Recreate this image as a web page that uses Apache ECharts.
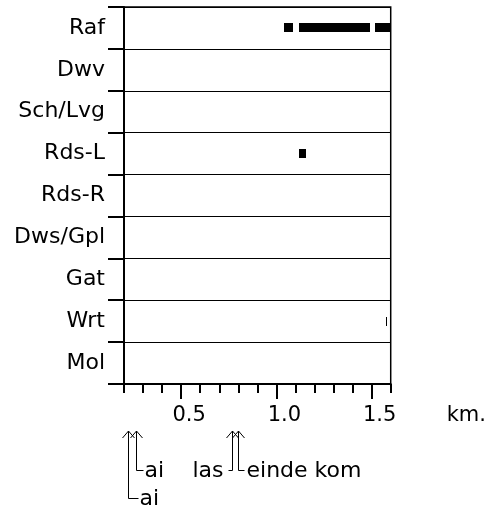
<!DOCTYPE html>
<html>
<head>
<meta charset="utf-8">
<script src="https://cdn.jsdelivr.net/npm/echarts@6/dist/echarts.min.js"></script>
<style>
html,body{margin:0;padding:0;background:#fff;}
#c{width:489px;height:513px;}
</style>
</head>
<body>
<div id="c"></div>
<script>
// ---- data ----
const categories = ['Raf', 'Dwv', 'Sch/Lvg', 'Rds-L', 'Rds-R', 'Dws/Gpl', 'Gat', 'Wrt', 'Mol'];
const segCategory = ['Raf', 'Raf', 'Raf', 'Rds-L', 'Wrt'];
const segStart = [1.04, 1.12, 1.52, 1.118, 1.574];
const segEnd = [1.088, 1.49, 1.60, 1.153, 1.578];
const xTickLabels = [0.5, 1.0, 1.5];
const markerKm = [0.221, 0.265, 0.766, 0.801];
const markerLabels = ['ai', 'ai', 'las', 'einde kom'];

// ---- layout for the marker annotations (not data) ----
const markerDrop = [67, 39, 39, 39];
const markerSide = [1, 1, -1, 1];
const markerArm = [10, 7, 4, 6];
const markerGap = [1, 1, 5, 2];

const FONT = 'DejaVu Sans';
const chart = echarts.init(document.getElementById('c'), null, {renderer: 'canvas'});

const option = {
  animation: false,
  backgroundColor: '#fff',
  grid: {left: 124, top: 7, right: 97, bottom: 129, show: true, borderColor: '#000', borderWidth: 1.5, backgroundColor: 'transparent'},
  xAxis: [
    {
      type: 'value', min: 0.2, max: 1.6, interval: 0.1, position: 'bottom',
      axisLine: {show: true, onZero: false, lineStyle: {color: '#000', width: 2}},
      axisTick: {show: true, length: 9, lineStyle: {color: '#000', width: 2}},
      axisLabel: {show: false},
      splitLine: {show: false}
    },
    {
      type: 'value', min: 0.2, max: 1.6, position: 'bottom',
      axisLine: {show: false, onZero: false},
      axisTick: {show: true, length: 15, customValues: xTickLabels, lineStyle: {color: '#000', width: 2}},
      axisLabel: {show: true, customValues: xTickLabels, formatter: v => Number(v).toFixed(1),
        fontSize: 21, fontFamily: FONT, color: '#000', margin: 21, padding: [0, 0, 0, 16]},
      splitLine: {show: false},
      name: 'km.', nameLocation: 'end', nameGap: 56,
      nameTextStyle: {fontSize: 21, fontFamily: FONT, color: '#000', align: 'left', verticalAlign: 'top', padding: [21, 0, 0, 0]}
    }
  ],
  yAxis: {
    type: 'category', data: categories, inverse: true,
    axisLine: {show: true, lineStyle: {color: '#000', width: 2}},
    axisTick: {show: true, length: 16, lineStyle: {color: '#000', width: 2}},
    axisLabel: {fontSize: 22, fontFamily: FONT, color: '#000', margin: 19},
    splitLine: {show: true, lineStyle: {color: '#000', width: 1.2}}
  },
  series: [{
    type: 'custom',
    clip: true,
    xAxisIndex: 0,
    encode: {x: [1, 2], y: 0},
    data: segCategory.map((c, i) => [c, segStart[i], segEnd[i]]),
    renderItem: function (params, api) {
      const cat = api.value(0);
      const p0 = api.coord([api.value(1), cat]);
      const p1 = api.coord([api.value(2), cat]);
      const h = 9;
      const x0 = Math.round(p0[0]);
      const w = Math.max(Math.round(p1[0]) - x0, 1);
      return {
        type: 'rect',
        shape: {x: x0, y: Math.round(p0[1] - h / 2), width: w, height: h},
        style: {fill: '#000'}
      };
    }
  }]
};
chart.setOption(option);

function drawMarkers() {
  const rect = chart.getModel().getComponent('grid', 0).coordinateSystem.getRect();
  const axisY = rect.y + rect.height;
  const tipY = axisY + 47;
  const els = [];
  markerKm.forEach((km, i) => {
    const x = Math.round(chart.convertToPixel({xAxisIndex: 0}, km)) + 0.5;
    const bendY = Math.round(tipY + markerDrop[i]) + 0.5;
    const armX = x + markerSide[i] * markerArm[i];
    els.push({type: 'polyline', shape: {points: [[x - 6, tipY + 7], [x, tipY], [x + 6, tipY + 7]]},
      style: {stroke: '#000', lineWidth: 1, fill: null}, silent: true});
    els.push({type: 'polyline', shape: {points: [[x, tipY], [x, bendY], [armX, bendY]]},
      style: {stroke: '#000', lineWidth: 1, fill: null}, silent: true});
    els.push({type: 'text', x: armX + markerSide[i] * markerGap[i], y: bendY + 1,
      style: {text: markerLabels[i], font: '22px "' + FONT + '"', fill: '#000',
        align: markerSide[i] > 0 ? 'left' : 'right', verticalAlign: 'middle'}, silent: true});
  });
  chart.setOption({graphic: {elements: els}});
}
drawMarkers();
</script>
</body>
</html>
